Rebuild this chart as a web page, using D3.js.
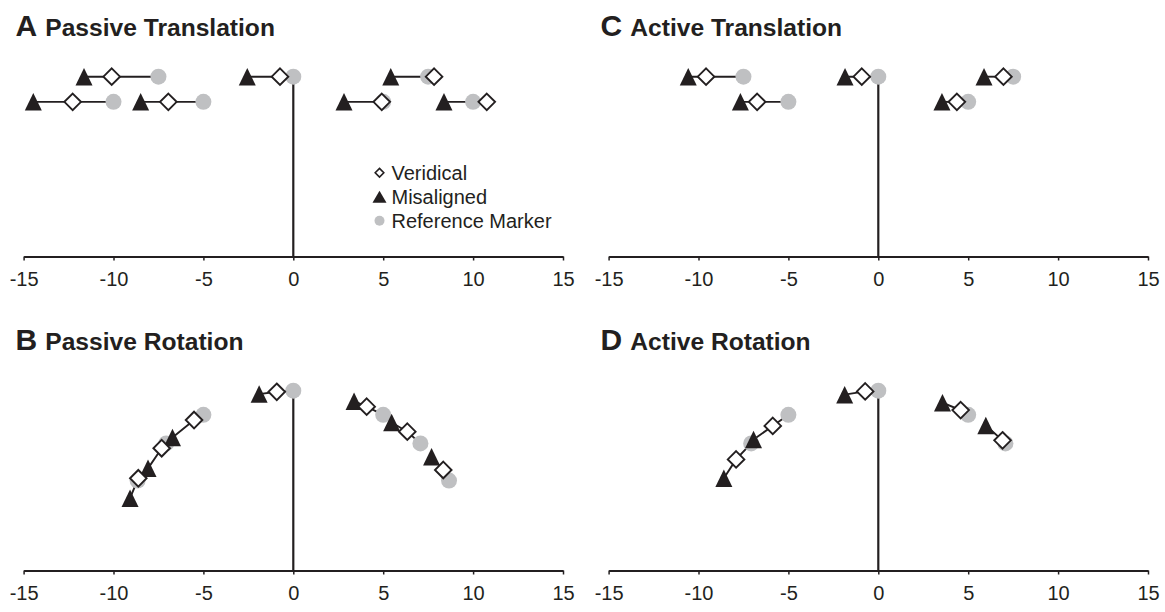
<!DOCTYPE html>
<html>
<head>
<meta charset="utf-8">
<script src="https://cdn.jsdelivr.net/npm/d3@7"></script>
<style>
  html, body { margin: 0; padding: 0; background: #ffffff; }
  svg { display: block; font-family: "Liberation Sans", Arial, sans-serif; }
</style>
</head>
<body>
<svg id="chart" width="1165" height="612"></svg>
<script>
// Horizontal position (x) and forward distance (y) of each marker, one triad per index:
// reference marker, veridical estimate and misaligned estimate.
const xTicks = [-15, -10, -5, 0, 5, 10, 15];

// A: passive translation
const passiveTransRef = [[-7.5, 10], [0, 10], [7.5, 10], [-10, 8.6], [-5, 8.6], [5, 8.6], [10, 8.6]];
const passiveTransVer = [[-10.1, 10], [-0.74, 10], [7.83, 10], [-12.27, 8.6], [-6.95, 8.6], [4.92, 8.6], [10.76, 8.6]];
const passiveTransMis = [[-11.64, 10], [-2.56, 10], [5.42, 10], [-14.46, 8.6], [-8.49, 8.6], [2.82, 8.6], [8.38, 8.6]];

// B: passive rotation
const passiveRotRef = [[0, 10], [-5, 8.66], [-7.07, 7.07], [-8.66, 5], [5, 8.66], [7.07, 7.07], [8.66, 5]];
const passiveRotVer = [[-0.92, 9.94], [-5.52, 8.37], [-7.32, 6.8], [-8.62, 5.13], [4.08, 9.11], [6.34, 7.72], [8.34, 5.59]];
const passiveRotMis = [[-1.9, 9.81], [-6.72, 7.4], [-8.08, 5.68], [-9.08, 4.02], [3.38, 9.42], [5.47, 8.23], [7.69, 6.33]];

// C: active translation
const activeTransRef = [[-7.5, 10], [0, 10], [7.5, 10], [-5, 8.6], [5, 8.6]];
const activeTransVer = [[-9.58, 10], [-0.92, 10], [6.96, 10], [-6.74, 8.6], [4.37, 8.6]];
const activeTransMis = [[-10.57, 10], [-1.85, 10], [5.88, 10], [-7.67, 8.6], [3.54, 8.6]];

// D: active rotation
const activeRotRef = [[0, 10], [-5, 8.66], [-7.07, 7.07], [5, 8.66], [7.07, 7.07]];
const activeRotVer = [[-0.73, 9.96], [-5.87, 8.04], [-7.91, 6.18], [4.58, 8.92], [6.91, 7.24]];
const activeRotMis = [[-1.87, 9.78], [-6.94, 7.29], [-8.59, 5.13], [3.57, 9.33], [5.98, 8.06]];

const legendLabels = ["Veridical", "Misaligned", "Reference Marker"];

const INK = "#231f20";
const GREY = "#bfc0c2";

const panels = [
  { letter: "A", title: "Passive Translation", ref: passiveTransRef, ver: passiveTransVer, mis: passiveTransMis,
    left: 23.6, right: 563, axisY: 256.5, legend: true },
  { letter: "B", title: "Passive Rotation", ref: passiveRotRef, ver: passiveRotVer, mis: passiveRotMis,
    left: 23.6, right: 563, axisY: 570.5 },
  { letter: "C", title: "Active Translation", ref: activeTransRef, ver: activeTransVer, mis: activeTransMis,
    left: 608.6, right: 1148, axisY: 256.5 },
  { letter: "D", title: "Active Rotation", ref: activeRotRef, ver: activeRotVer, mis: activeRotMis,
    left: 608.6, right: 1148, axisY: 570.5 }
];

const svg = d3.select("#chart");

function trianglePath(w, h) {
  return `M0,${-h / 2}L${w / 2},${h / 2}L${-w / 2},${h / 2}Z`;
}
function diamondPath(r) {
  return `M0,${-r}L${r},0L0,${r}L${-r},0Z`;
}

panels.forEach(p => {
  const unit = (p.right - p.left) / 30;
  const x = d3.scaleLinear().domain([-15, 15]).range([p.left, p.right]);
  const y = d3.scaleLinear().domain([0, 10]).range([p.axisY, p.axisY - 10 * unit]);

  const g = svg.append("g");

  // Panel heading: bold letter followed by the condition name
  const titleX = p.left - 8;
  const titleY = p.axisY - 220.5;
  const t = g.append("text")
    .attr("x", titleX)
    .attr("y", titleY)
    .attr("fill", INK)
    .attr("font-weight", "bold");
  t.append("tspan").attr("font-size", 30).text(p.letter);
  t.append("tspan").attr("font-size", 24.6).attr("dx", 8).text(p.title);

  // Horizontal axis
  const axis = d3.axisBottom(x).tickValues(xTicks).tickSize(4).tickSizeOuter(0).tickPadding(11)
    .tickFormat(d3.format("d"));
  const ag = g.append("g").attr("transform", `translate(0,${p.axisY})`).call(axis);
  ag.select(".domain").attr("stroke", INK).attr("stroke-width", 2.2);
  ag.selectAll(".tick line").attr("stroke", INK).attr("stroke-width", 1.5);
  ag.selectAll(".tick text")
    .attr("fill", INK)
    .attr("font-size", 20)
    .attr("font-family", "Liberation Sans, Arial, sans-serif")
    .text(d => d < 0 ? "-" + Math.abs(d) : String(d));

  // Vertical line from the origin up to the straight-ahead reference marker
  g.append("line")
    .attr("x1", x(0)).attr("x2", x(0))
    .attr("y1", y(0)).attr("y2", y(10))
    .attr("stroke", INK).attr("stroke-width", 2.2);

  // Connectors: misaligned -> veridical -> reference
  const line = d3.line().x(d => x(d[0])).y(d => y(d[1]));
  p.ref.forEach((r, i) => {
    g.append("path")
      .attr("d", line([p.mis[i], p.ver[i], r]))
      .attr("fill", "none")
      .attr("stroke", INK)
      .attr("stroke-width", 1.9);
  });

  g.selectAll("circle.ref").data(p.ref).join("circle")
    .attr("class", "ref")
    .attr("cx", d => x(d[0])).attr("cy", d => y(d[1]))
    .attr("r", 8).attr("fill", GREY);

  g.selectAll("path.mis").data(p.mis).join("path")
    .attr("class", "mis")
    .attr("d", trianglePath(17, 17.5))
    .attr("transform", d => `translate(${x(d[0])},${y(d[1])})`)
    .attr("fill", INK);

  g.selectAll("path.ver").data(p.ver).join("path")
    .attr("class", "ver")
    .attr("d", diamondPath(8.3))
    .attr("transform", d => `translate(${x(d[0])},${y(d[1])})`)
    .attr("fill", "#ffffff")
    .attr("stroke", INK)
    .attr("stroke-width", 1.9);

  if (p.legend) {
    const lg = g.append("g").attr("transform", "translate(379.5,172.7)");
    const rowH = 24;
    legendLabels.forEach((label, i) => {
      const row = lg.append("g").attr("transform", `translate(0,${i * rowH})`);
      if (i === 0) {
        row.append("path").attr("d", diamondPath(4.3))
          .attr("fill", "#ffffff").attr("stroke", INK).attr("stroke-width", 1.6);
      } else if (i === 1) {
        row.append("path").attr("d", trianglePath(14, 12)).attr("fill", INK);
      } else {
        row.append("circle").attr("r", 5).attr("fill", GREY);
      }
      row.append("text")
        .attr("x", 12).attr("y", 7)
        .attr("font-size", 20)
        .attr("fill", INK)
        .text(label);
    });
  }
});
</script>
</body>
</html>
